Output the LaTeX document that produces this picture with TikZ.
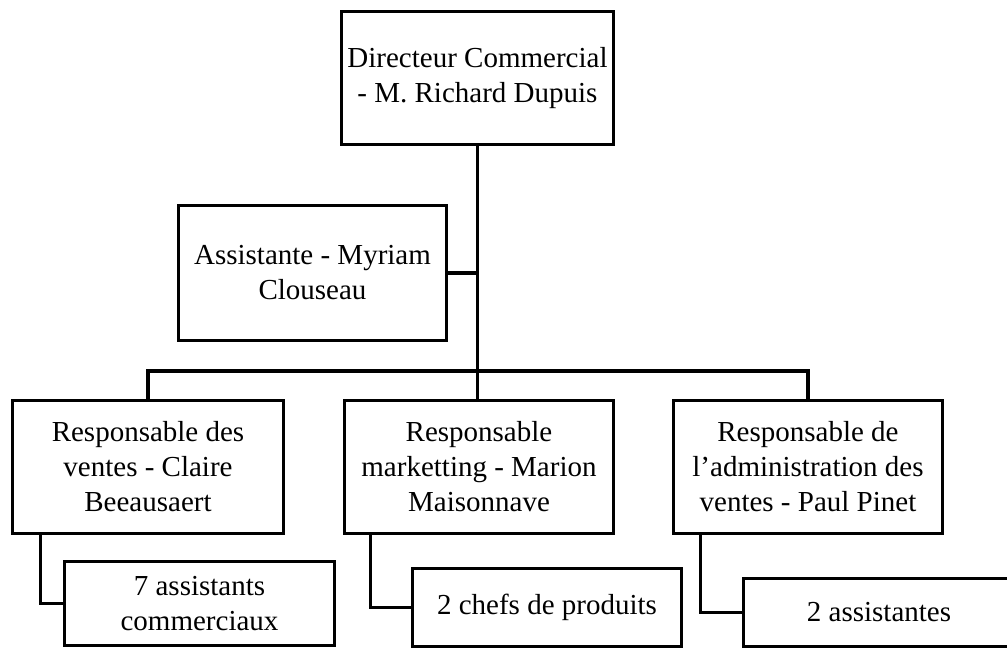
\documentclass[tikz,border=0pt]{standalone}
\usepackage{fontspec}
\setmainfont{Liberation Serif}
\usetikzlibrary{calc}
\tikzset{
  orgbox/.style={draw=black, line width=3.6pt, fill=white, inner sep=0pt,
    align=center, font=\fontsize{29}{35}\selectfont},
  link/.style={draw=black, line width=3.4pt}
}
\begin{document}
\begin{tikzpicture}[x=1pt,y=-1pt]
\useasboundingbox (0,0) rectangle (1007,650);
\clip (0,0) rectangle (1007,650);
\fill[white] (0,0) rectangle (1007,650);

\node[orgbox, minimum width=272pt, minimum height=133pt] (top) at (477.5,78)
  {Directeur Commercial\\- M. Richard Dupuis};
\node[orgbox, minimum width=268pt, minimum height=135pt] (asst) at (312.5,273)
  {Assistante - Myriam\\Clouseau};
\node[orgbox, minimum width=271pt, minimum height=133pt] (L) at (148,467)
  {Responsable des\\ventes - Claire\\Beeausaert};
\node[orgbox, minimum width=269pt, minimum height=133pt] (M) at (479,467)
  {Responsable\\marketting - Marion\\Maisonnave};
\node[orgbox, minimum width=269pt, minimum height=133pt] (R) at (808,467)
  {Responsable de\\l’administration des\\ventes - Paul Pinet};
\node[orgbox, minimum width=270pt, minimum height=84pt] (Ls) at (199.5,603.5)
  {7 assistants\\commerciaux};
\node[orgbox, minimum width=269pt, minimum height=78pt] (Ms) at (547,607.5)
  {2 chefs de produits};
\node[orgbox, minimum width=271pt, minimum height=68pt] (Rs) at (879,612.5)
  {2 assistantes};

\coordinate (bus) at (477.5,371);

\draw[link] (top.south) -- (top.south |- M.north);
\draw[link] (asst.east) -- (asst.east -| top.south);
\draw[link] (L.north) |- (bus) -| (R.north);
\draw[link] ($(L.south west)+(30,0)$) |- (Ls.west);
\draw[link] ($(M.south west)+(28,0)$) |- (Ms.west);
\draw[link] ($(R.south west)+(29,0)$) |- (Rs.west);
\end{tikzpicture}
\end{document}
